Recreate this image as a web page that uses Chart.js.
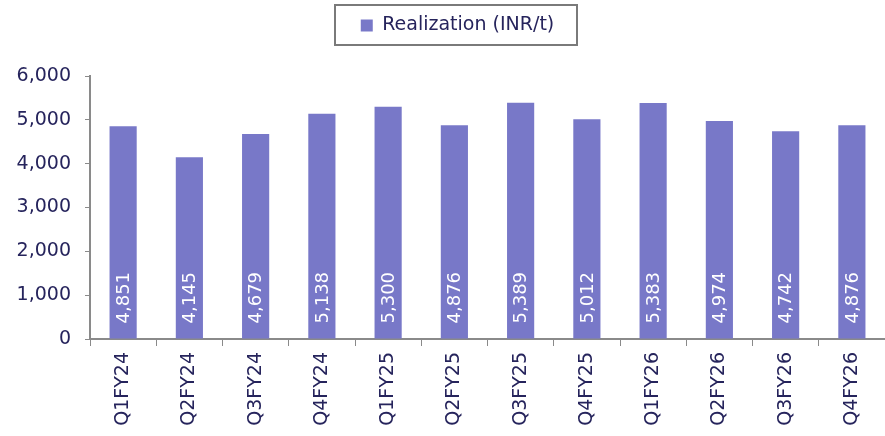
<!DOCTYPE html>
<html>
<head>
<meta charset="utf-8">
<script src="https://cdn.jsdelivr.net/npm/chart.js@4"></script>
<style>
  html, body { margin: 0; padding: 0; background: #fff; overflow: hidden; }
</style>
</head>
<body>
<canvas id="realChart" width="885" height="436"></canvas>
<script>
const quarters = ['Q1FY24', 'Q2FY24', 'Q3FY24', 'Q4FY24', 'Q1FY25', 'Q2FY25',
                  'Q3FY25', 'Q4FY25', 'Q1FY26', 'Q2FY26', 'Q3FY26', 'Q4FY26'];
const realization = [4851, 4145, 4679, 5138, 5300, 4876, 5389, 5012, 5383, 4974, 4742, 4876];
const yTicks = [0, 1000, 2000, 3000, 4000, 5000, 6000];

const textColor = '#26245c';
const axisColor = '#8a8a8a';
const barColor = '#7878c8';
const font = '"DejaVu Sans"';

// white rotated labels sitting at the foot of each bar
const barLabels = {
  id: 'barLabels',
  afterDatasetsDraw(chart) {
    const ctx = chart.ctx;
    const meta = chart.getDatasetMeta(0);
    ctx.save();
    ctx.fillStyle = '#ffffff';
    ctx.font = '18px ' + font;
    ctx.textAlign = 'left';
    ctx.textBaseline = 'middle';
    meta.data.forEach((bar, i) => {
      ctx.save();
      ctx.translate(bar.x + 1, bar.base - 15);
      ctx.rotate(-Math.PI / 2);
      ctx.fillText(realization[i].toLocaleString('en-US'), 0, 0);
      ctx.restore();
    });
    ctx.restore();
  }
};

// legend: fixed height, nudged right, framed
const legendBox = {
  id: 'legendBox',
  beforeUpdate(chart) {
    const lg = chart.legend;
    if (lg && !lg._patched) {
      const fit = lg.fit;
      lg.fit = function () {
        fit.call(this);
        this.height = 76;
      };
      lg._patched = true;
    }
  },
  afterLayout(chart) {
    chart.legend.left += 15;
    chart.legend.right += 15;
  },
  afterDraw(chart) {
    const ctx = chart.ctx;
    ctx.save();
    ctx.strokeStyle = '#7a7a7a';
    ctx.lineWidth = 2;
    ctx.strokeRect(335, 5, 242, 40);
    ctx.restore();
  }
};

new Chart(document.getElementById('realChart'), {
  type: 'bar',
  data: {
    labels: quarters,
    datasets: [{
      label: 'Realization (INR/t)',
      data: realization,
      backgroundColor: barColor,
      barPercentage: 0.41,
      categoryPercentage: 1
    }]
  },
  options: {
    responsive: false,
    animation: false,
    devicePixelRatio: 1,
    layout: { padding: { top: 0, right: 0, left: 0, bottom: 0 } },
    plugins: {
      tooltip: { enabled: false },
      legend: {
        position: 'top',
        labels: {
          color: textColor,
          font: { family: font, size: 19 },
          boxWidth: 12,
          boxHeight: 12,
          padding: 16
        }
      }
    },
    scales: {
      x: {
        afterFit(axis) { axis.height = 97; },
        grid: {
          display: true,
          drawOnChartArea: false,
          drawTicks: true,
          tickLength: 7,
          color: axisColor,
          offset: true
        },
        border: { color: axisColor, width: 2 },
        ticks: {
          color: textColor,
          font: { family: font, size: 19 },
          minRotation: 90,
          maxRotation: 90,
          autoSkip: false,
          padding: 6
        }
      },
      y: {
        min: 0,
        max: 6000,
        afterFit(axis) { axis.width = 90; },
        afterBuildTicks(axis) {
          axis.ticks = yTicks.map(v => ({ value: v }));
        },
        grid: {
          display: true,
          drawOnChartArea: false,
          drawTicks: true,
          tickLength: 5,
          color: axisColor
        },
        border: { color: axisColor, width: 2 },
        ticks: {
          color: textColor,
          font: { family: font, size: 19 },
          padding: 14,
          callback: v => v.toLocaleString('en-US')
        }
      }
    }
  },
  plugins: [barLabels, legendBox]
});
</script>
</body>
</html>
